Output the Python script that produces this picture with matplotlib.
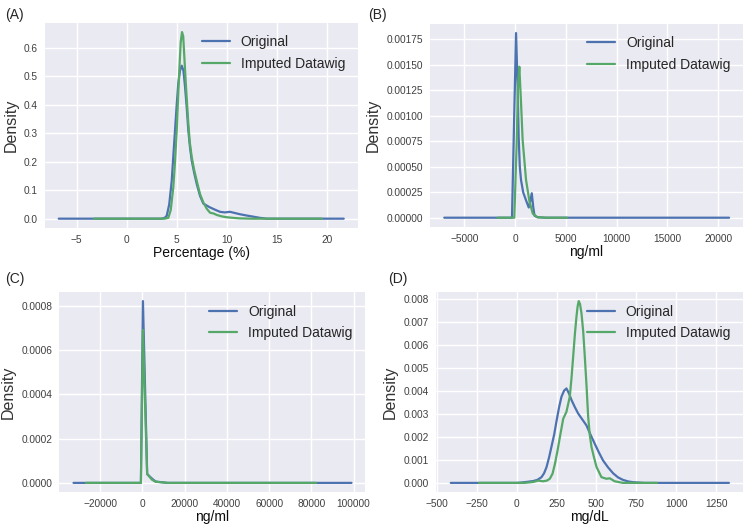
import matplotlib
matplotlib.use("Agg")
import matplotlib.pyplot as plt
from matplotlib.ticker import MultipleLocator, FormatStrFormatter

plt.style.use("seaborn-v0_8")
plt.rcParams["font.family"] = ["Liberation Sans", "DejaVu Sans"]

labels = ["Original", "Imputed Datawig"]
colors = ["#4C72B0", "#55A868"]

# (A) Percentage (%)
a_orig_x = [-6.8, 3.5, 3.8, 4.0, 4.25, 4.5, 4.66, 4.83, 5.0, 5.16, 5.33, 5.5, 5.67, 5.83, 6.0,
            6.16, 6.33, 6.5, 6.75, 7.0, 7.33, 7.66, 8.0, 8.3, 8.8, 9.33, 9.8, 10.33, 10.8, 11.33,
            12.0, 12.66, 13.3, 14.0, 21.7]
a_orig_y = [0.0, 0.0, 0.003, 0.01, 0.05, 0.133, 0.22, 0.31, 0.40, 0.476, 0.52, 0.537, 0.52,
            0.464, 0.39, 0.31, 0.25, 0.204, 0.16, 0.122, 0.08, 0.053, 0.046, 0.04, 0.032, 0.024,
            0.022, 0.024, 0.02, 0.0155, 0.011, 0.007, 0.003, 0.0, 0.0]
a_imp_x = [-3.27, 3.8, 4.16, 4.4, 4.66, 4.83, 5.0, 5.13, 5.26, 5.4, 5.53, 5.65, 5.83, 5.95, 6.16,
           6.3, 6.5, 6.75, 7.0, 7.33, 7.66, 8.0, 8.33, 8.7, 9.0, 9.5, 10.0, 10.6, 11.3, 12.5,
           19.5]
a_imp_y = [0.0, 0.0, 0.003, 0.03, 0.11, 0.2, 0.31, 0.42, 0.523, 0.62, 0.655, 0.64, 0.523, 0.45,
           0.334, 0.27, 0.216, 0.17, 0.133, 0.086, 0.057, 0.035, 0.021, 0.018, 0.013, 0.008,
           0.005, 0.003, 0.001, 0.0, 0.0]

# (B) ng/ml
b_orig_x = [-6974, -300, 100, 257, 360, 470, 590, 800, 1085, 1350, 1500, 1650, 1800, 1920, 2200,
            3000, 21086]
b_orig_y = [0.0, 0.0, 0.00181, 0.00128, 0.00079, 0.0005, 0.00037, 0.00025, 0.00017, 0.0001,
            0.00016, 0.00024, 0.0001, 0.00002, 0.000005, 0.0, 0.0]
b_imp_x = [-1720, -70, 150, 300, 424, 590, 750, 1085, 1420, 1750, 2200, 3000, 5130]
b_imp_y = [0.0, 0.0, 0.0007, 0.0013, 0.00148, 0.00113, 0.00076, 0.00037, 0.00016, 0.00004,
           0.000005, 0.0, 0.0]

# (C) ng/ml
c_orig_x = [-32560, -650, 300, 2300, 4500, 6300, 12000, 99000]
c_orig_y = [0.0, 0.0, 0.00082, 0.00004, 0.00002, 0.000006, 0.0, 0.0]
c_imp_x = [-26700, -650, 300, 2300, 4500, 6300, 12000, 82300]
c_imp_y = [0.0, 0.0, 0.00069, 0.00004, 0.000015, 0.000005, 0.0, 0.0]

# (D) mg/dL
d_orig_x = [-412, 0, 21, 60, 104, 130, 156, 172, 187, 203, 219, 235, 250, 266, 281, 297, 312,
            328, 344, 365, 385, 410, 437, 463, 489, 515, 541, 572, 604, 635, 666, 700, 729, 800,
            1329]
d_orig_y = [0.0, 0.0, 0.00001, 0.00004, 0.00008, 0.00013, 0.00025, 0.00042, 0.00068, 0.0011,
            0.0016, 0.0021, 0.0027, 0.0033, 0.00376, 0.00402, 0.00412, 0.0039, 0.00361, 0.0033,
            0.00303, 0.00278, 0.00251, 0.0021, 0.00171, 0.00133, 0.00098, 0.00068, 0.00042,
            0.00024, 0.00013, 0.00006, 0.00003, 0.0, 0.0]
d_imp_x = [-236, 50, 104, 135, 166, 190, 208, 225, 240, 256, 271, 292, 312, 333, 344, 354, 365,
           375, 382, 389, 397, 406, 417, 427, 438, 448, 458, 469, 485, 500, 531, 562, 583, 614,
           666, 880]
d_imp_y = [0.0, 0.0, 0.00004, 0.0001, 0.00007, 0.0001, 0.00018, 0.0004, 0.00083, 0.0014,
           0.002, 0.0028, 0.0031, 0.00376, 0.0046, 0.0055, 0.0065, 0.00727, 0.0077, 0.00793,
           0.0078, 0.00741, 0.0066, 0.0055, 0.0042, 0.00288, 0.0021, 0.00156, 0.0011, 0.0007,
           0.00025, 0.00018, 0.0002, 0.00007, 0.0, 0.0]

panels = [
    ("(A)", [a_orig_x, a_imp_x], [a_orig_y, a_imp_y], "Percentage (%)", 5, 0.1, "%.1f",
     (-8.17, 23.1)),
    ("(B)", [b_orig_x, b_imp_x], [b_orig_y, b_imp_y], "ng/ml", 5000, 0.00025, "%.5f",
     (-8400, 22480)),
    ("(C)", [c_orig_x, c_imp_x], [c_orig_y, c_imp_y], "ng/ml", 20000, 0.0002, "%.4f",
     (-39300, 105500)),
    ("(D)", [d_orig_x, d_imp_x], [d_orig_y, d_imp_y], "mg/dL", 250, 0.001, "%.3f",
     (-506, 1414)),
]

# axes boxes in figure fractions
boxes = [
    [0.060, 0.569, 0.417, 0.388],
    [0.573, 0.571, 0.418, 0.384],
    [0.079, 0.070, 0.408, 0.378],
    [0.581, 0.070, 0.409, 0.378],
]
tags = [(0.007, 0.985), (0.491, 0.985), (0.007, 0.485), (0.517, 0.485)]

fig = plt.figure(figsize=(7.5, 5.29), dpi=100)

for (tag, xs, ys, xlab, xstep, ystep, fmt, xlim), box, (tx, ty) in zip(panels, boxes, tags):
    ax = fig.add_axes(box)
    for x, y, lab, col in zip(xs, ys, labels, colors):
        ax.plot(x, y, color=col, lw=1.6, label=lab)
    ax.set_xlim(*xlim)
    ax.xaxis.set_major_locator(MultipleLocator(xstep))
    ax.yaxis.set_major_locator(MultipleLocator(ystep))
    ax.yaxis.set_major_formatter(FormatStrFormatter(fmt))
    ax.tick_params(labelsize=7.3, pad=5, colors=".25")
    ax.set_xlabel(xlab, fontsize=10, labelpad=1, color="0.05")
    ax.set_ylabel("Density", fontsize=11.5, labelpad=4, color=".2")
    ax.legend(loc="upper right", fontsize=10, frameon=False, handlelength=2.0,
              labelspacing=0.55)
    fig.text(tx, ty, tag, fontsize=10, va="top", ha="left")

fig.savefig("out.png", dpi=100)
